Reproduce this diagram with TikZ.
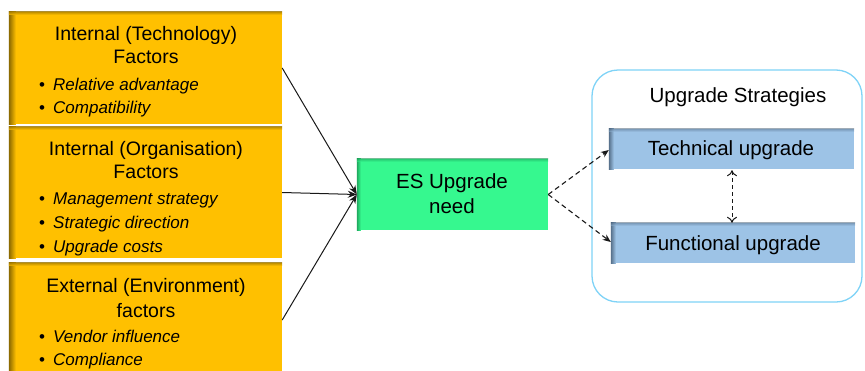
\documentclass[tikz,border=0pt]{standalone}
\usepackage{fontspec}
\setmainfont{Liberation Sans}
\usetikzlibrary{arrows.meta}
\definecolor{orF}{HTML}{FFC000}
\definecolor{orD}{HTML}{8A6800}
\definecolor{grF}{HTML}{36F88F}
\definecolor{grD}{HTML}{1FA85E}
\definecolor{blF}{HTML}{9DC3E6}
\definecolor{blD}{HTML}{56708A}
\definecolor{skyB}{HTML}{7FD3F7}
\begin{document}
\begin{tikzpicture}[x=1pt,y=-1pt,
  factorbox/.style={fill=orF, draw=none, inner sep=0pt},
  needbox/.style={fill=grF, draw=none, inner sep=0pt},
  stratbox/.style={fill=blF, draw=none, inner sep=0pt},
  groupbox/.style={draw=skyB, line width=1.3pt, rounded corners=26pt, fill=white, inner sep=0pt},
  ttl/.style={font=\fontsize{19.5}{23}\selectfont, anchor=base, inner sep=0pt},
  bul/.style={font=\fontsize{17}{21}\selectfont\itshape, anchor=base west, inner sep=0pt},
  big/.style={font=\fontsize{20.5}{24}\selectfont, anchor=base, inner sep=0pt},
  solidarrow/.style={-{Stealth[length=9pt,width=7pt]}, line width=1pt, black!90},
  dasharrow/.style={-{Stealth[length=8pt,width=6.5pt]}, dash pattern=on 5pt off 3.5pt, line width=1.1pt, black!90},
  dblarrow/.style={{To[length=6pt,width=10pt]}-{To[length=6pt,width=10pt]}, dash pattern=on 4pt off 3pt, line width=1pt, black!90}
]
\useasboundingbox (0,0) rectangle (865,370);
\fill[white] (0,0) rectangle (865,370);

% factor boxes
\node[factorbox, minimum width=273pt, minimum height=112pt] (b1) at (145.5,68) {};
\node[factorbox, minimum width=273pt, minimum height=131pt] (b2) at (145.5,192.5) {};
\node[factorbox, minimum width=273pt, minimum height=114pt] (b3) at (145.5,320) {};
\foreach \b in {b1,b2,b3}{
  \shade[left color=orD, right color=orF] (\b.north west) rectangle ([xshift=7pt]\b.south west);
  \shade[top color=orD!70!orF, bottom color=orF, opacity=0.8] (\b.north west) rectangle ([yshift=-3pt]\b.north east);
}

% need box
\node[needbox, minimum width=191pt, minimum height=71pt] (need) at (452.5,194.5) {};
\shade[left color=grD, right color=grF] (need.north west) rectangle ([xshift=4pt]need.south west);
\shade[top color=grD, bottom color=grF, opacity=0.6] (need.north west) rectangle ([yshift=-3pt]need.north east);

% strategies group
\node[groupbox, minimum width=270pt, minimum height=232pt] (grp) at (727,186) {};
\node[stratbox, minimum width=245pt, minimum height=40pt] (tech) at (731.5,149) {};
\node[stratbox, minimum width=244pt, minimum height=40pt] (func) at (733,243) {};
\foreach \b in {tech,func}{
  \shade[left color=blD, right color=blF] (\b.north west) rectangle ([xshift=5pt]\b.south west);
  \shade[top color=blD, bottom color=blF, opacity=0.5] (\b.north west) rectangle ([yshift=-3pt]\b.north east);
}

% texts
\node[ttl] (t1a) at (146,40) {Internal (Technology)};
\node[ttl] (t1b) at (146,63) {Factors};
\node[bul] (t1c) at (39,90) {\makebox[14pt][l]{\upshape\textbullet}Relative advantage};
\node[bul] (t1d) at (39,113) {\makebox[14pt][l]{\upshape\textbullet}Compatibility};

\node[ttl] (t2a) at (146,155) {Internal (Organisation)};
\node[ttl] (t2b) at (146,178) {Factors};
\node[bul] (t2c) at (39,204) {\makebox[14pt][l]{\upshape\textbullet}Management strategy};
\node[bul] (t2d) at (39,228) {\makebox[14pt][l]{\upshape\textbullet}Strategic direction};
\node[bul] (t2e) at (39,252) {\makebox[14pt][l]{\upshape\textbullet}Upgrade costs};

\node[ttl] (t3a) at (146,292) {External (Environment)};
\node[ttl] (t3b) at (146,317) {factors};
\node[bul] (t3c) at (39,342) {\makebox[14pt][l]{\upshape\textbullet}Vendor influence};
\node[bul] (t3d) at (39,365) {\makebox[14pt][l]{\upshape\textbullet}Compliance};

\node[big] (n1) at (452,188) {ES Upgrade};
\node[big] (n2) at (452,213) {need};

\node[big] (gs) at (738,102) {Upgrade Strategies};
\node[big] (tt) at (731,155) {Technical upgrade};
\node[big] (ft) at (733,250) {Functional upgrade};

% connectors
\draw[solidarrow] (b1.east) -- (need.west);
\draw[solidarrow] (b2.east) -- (need.west);
\draw[solidarrow] (b3.east) -- (need.west);
\draw[dasharrow] (need.east) -- ([yshift=-1pt]tech.west);
\draw[dasharrow] (need.east) -- ([yshift=1pt]func.west);
\draw[dblarrow] ([yshift=-1pt]tech.south -| 732,0) -- ([yshift=0pt]func.north -| 732,0);
\end{tikzpicture}
\end{document}
